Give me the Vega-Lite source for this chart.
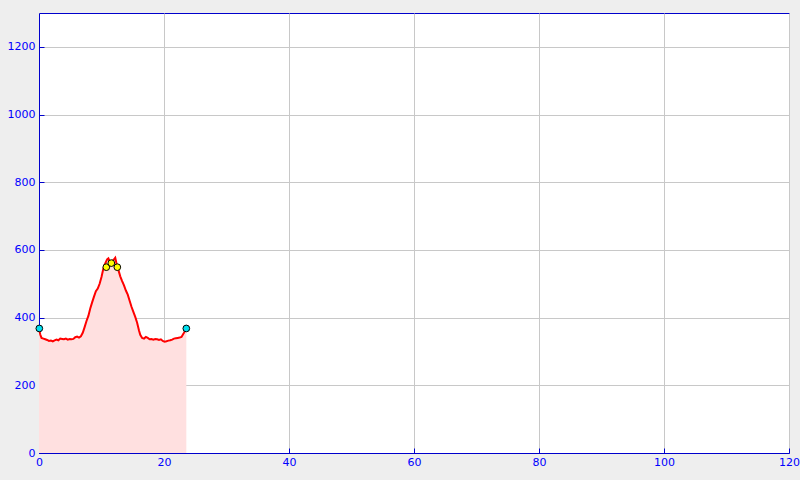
{
  "$schema": "https://vega.github.io/schema/vega-lite/v6.json",
  "width": 750,
  "height": 440,
  "autosize": {"type": "none"},
  "padding": {"left": 39, "top": 13, "right": 11, "bottom": 27},
  "background": "#eeeeee",
  "config": {
    "view": {"fill": "white", "stroke": "#0000cc", "strokeWidth": 1},
    "axis": {
      "domainColor": "#0000cc",
      "tickColor": "#0000cc",
      "tickSize": -5,
      "labelColor": "#0000ff",
      "labelFont": "DejaVu Sans",
      "labelFontSize": 11,
      "labelFlush": false,
      "format": "d",
      "gridColor": "#c8c8c8",
      "gridWidth": 1,
      "title": null
    }
  },
  "datasets": {
    "profile": [
      {"x": 0, "y": 368}, {"x": 0.2, "y": 350}, {"x": 0.4, "y": 340}, {"x": 0.7, "y": 338},
      {"x": 1.0, "y": 336}, {"x": 1.3, "y": 334}, {"x": 1.6, "y": 331}, {"x": 1.9, "y": 332},
      {"x": 2.2, "y": 330}, {"x": 2.5, "y": 333}, {"x": 2.8, "y": 335}, {"x": 3.1, "y": 333},
      {"x": 3.4, "y": 338}, {"x": 3.7, "y": 337}, {"x": 4.0, "y": 336}, {"x": 4.3, "y": 338},
      {"x": 4.6, "y": 335}, {"x": 4.9, "y": 337}, {"x": 5.2, "y": 336}, {"x": 5.5, "y": 337},
      {"x": 5.8, "y": 342}, {"x": 6.1, "y": 344}, {"x": 6.4, "y": 341}, {"x": 6.7, "y": 345},
      {"x": 7.0, "y": 355}, {"x": 7.3, "y": 372}, {"x": 7.6, "y": 390}, {"x": 7.9, "y": 405},
      {"x": 8.2, "y": 427}, {"x": 8.5, "y": 445}, {"x": 8.8, "y": 462}, {"x": 9.1, "y": 478},
      {"x": 9.4, "y": 486}, {"x": 9.7, "y": 500}, {"x": 10.0, "y": 520}, {"x": 10.3, "y": 545},
      {"x": 10.6, "y": 560}, {"x": 10.9, "y": 572}, {"x": 11.1, "y": 575}, {"x": 11.3, "y": 566},
      {"x": 11.6, "y": 565}, {"x": 11.9, "y": 570}, {"x": 12.2, "y": 577}, {"x": 12.4, "y": 560},
      {"x": 12.7, "y": 541}, {"x": 13.0, "y": 522}, {"x": 13.3, "y": 508}, {"x": 13.6, "y": 495},
      {"x": 13.9, "y": 480}, {"x": 14.2, "y": 468}, {"x": 14.5, "y": 450}, {"x": 14.8, "y": 432},
      {"x": 15.1, "y": 417}, {"x": 15.4, "y": 402}, {"x": 15.7, "y": 385}, {"x": 16.0, "y": 362},
      {"x": 16.2, "y": 349}, {"x": 16.5, "y": 340}, {"x": 16.8, "y": 338}, {"x": 17.1, "y": 343},
      {"x": 17.4, "y": 340}, {"x": 17.7, "y": 336}, {"x": 18.0, "y": 337}, {"x": 18.3, "y": 335},
      {"x": 18.6, "y": 337}, {"x": 18.9, "y": 336}, {"x": 19.2, "y": 334}, {"x": 19.5, "y": 336},
      {"x": 19.8, "y": 331}, {"x": 20.1, "y": 329}, {"x": 20.4, "y": 330}, {"x": 20.7, "y": 332},
      {"x": 21.0, "y": 333}, {"x": 21.3, "y": 335}, {"x": 21.6, "y": 338}, {"x": 21.9, "y": 339},
      {"x": 22.2, "y": 340}, {"x": 22.5, "y": 341}, {"x": 22.8, "y": 343}, {"x": 23.1, "y": 352},
      {"x": 23.4, "y": 362}, {"x": 23.57, "y": 368}
    ],
    "markers": [
      {"x": 0.05, "y": 368, "kind": "end"},
      {"x": 23.57, "y": 368, "kind": "end"},
      {"x": 10.77, "y": 549, "kind": "peak"},
      {"x": 11.57, "y": 561, "kind": "peak"},
      {"x": 12.53, "y": 549, "kind": "peak"}
    ]
  },
  "encoding": {
    "x": {
      "field": "x", "type": "quantitative",
      "scale": {"domain": [0, 120], "nice": false, "zero": false},
      "axis": {"values": [0, 20, 40, 60, 80, 100, 120], "labelPadding": 8}
    },
    "y": {
      "field": "y", "type": "quantitative",
      "scale": {"domain": [0, 1300], "nice": false},
      "axis": {"values": [0, 200, 400, 600, 800, 1000, 1200], "labelPadding": 9}
    }
  },
  "layer": [
    {
      "data": {"name": "profile"},
      "mark": {"type": "area", "color": "#ffe0e0", "opacity": 1}
    },
    {
      "data": {"name": "profile"},
      "mark": {"type": "line", "color": "#ff0000", "strokeWidth": 2}
    },
    {
      "data": {"name": "markers"},
      "mark": {"type": "point", "filled": true, "size": 45, "stroke": "black", "strokeWidth": 1, "opacity": 1},
      "encoding": {
        "fill": {
          "field": "kind", "type": "nominal",
          "scale": {"domain": ["end", "peak"], "range": ["#00e0f0", "#ffff00"]},
          "legend": null
        }
      }
    }
  ]
}
